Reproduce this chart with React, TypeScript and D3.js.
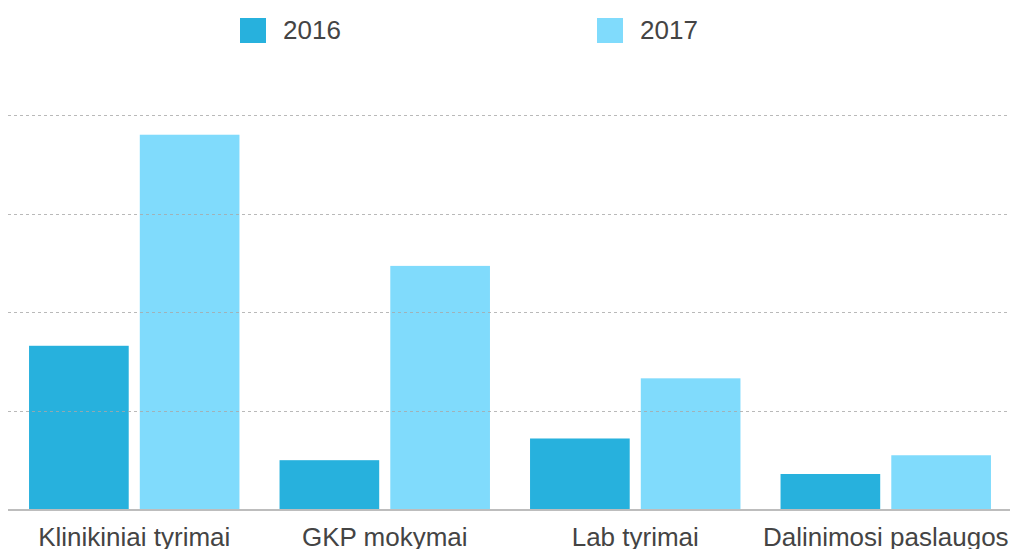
import * as d3 from "d3";
import React from "react";
import { useEffect, useRef } from "react";

const categories = ["Klinikiniai tyrimai", "GKP mokymai", "Lab tyrimai", "Dalinimosi paslaugos"];
const seriesNames = ["2016", "2017"];
const values2016 = [1.66, 0.5, 0.72, 0.36];
const values2017 = [3.8, 2.47, 1.33, 0.55];
const gridTicks = [1, 2, 3, 4];

const App = () => {
    const chartArea = useRef(null);
    const width = 1013, height = 549;
    const colors = { "2016": "#27b1dd", "2017": "#80dbfc" };

    useEffect(() => {
        createChart();
    }, []);

    const createChart = () => {
        const svg = d3.select(chartArea.current);
        svg.selectAll("*").remove();

        const x0 = d3.scaleBand()
            .domain(categories)
            .range([9, 1011])
            .paddingInner(0.16)
            .paddingOuter(0.08);

        const x1 = d3.scaleBand()
            .domain(seriesNames)
            .range([0, x0.bandwidth()])
            .paddingInner(0.1);

        const y = d3.scaleLinear()
            .domain([0, 4])
            .range([509.5, 115]);

        const rows = categories.map((c, i) => ({ name: c, values: [values2016[i], values2017[i]] }));

        // bars
        const groups = svg.selectAll("g.group")
            .data(rows)
            .enter()
            .append("g")
            .attr("class", "group")
            .attr("transform", (d: any) => "translate(" + x0(d.name) + ",0)");

        groups.selectAll("rect")
            .data((d: any) => d.values.map((v: number, j: number) => ({ key: seriesNames[j], value: v })))
            .enter()
            .append("rect")
            .attr("x", (d: any) => x1(d.key))
            .attr("y", (d: any) => y(d.value))
            .attr("width", x1.bandwidth())
            .attr("height", (d: any) => y(0) - y(d.value))
            .style("fill", (d: any) => colors[d.key]);

        // dotted grid lines drawn above the bars
        svg.selectAll("line.grid")
            .data(gridTicks)
            .enter()
            .append("line")
            .attr("class", "grid")
            .attr("x1", 8)
            .attr("x2", 1009)
            .attr("y1", (d: any) => Math.round(y(d)) + 0.5)
            .attr("y2", (d: any) => Math.round(y(d)) + 0.5)
            .style("stroke", "#a8a8a8")
            .style("stroke-dasharray", "3,3")
            .style("stroke-width", 1)
            .style("opacity", 0.8);

        // baseline
        svg.append("line")
            .attr("x1", 8)
            .attr("x2", 1010)
            .attr("y1", y(0) + 0.5)
            .attr("y2", y(0) + 0.5)
            .style("stroke", "#bdbdbd")
            .style("stroke-width", 2);

        // category labels
        svg.selectAll("text.cat")
            .data(categories)
            .enter()
            .append("text")
            .attr("class", "cat")
            .attr("x", (d: any) => (x0(d) as number) + x0.bandwidth() / 2)
            .attr("y", 546)
            .attr("text-anchor", "middle")
            .attr("font-size", "26px")
            .attr("font-family", "'Liberation Sans', Arial, sans-serif")
            .attr("fill", "#444")
            .text((d: any) => d);

        // legend
        const legendX = d3.scaleOrdinal<string, number>().domain(seriesNames).range([240, 597]);
        const legend = svg.selectAll("g.legend")
            .data(seriesNames)
            .enter()
            .append("g")
            .attr("class", "legend")
            .attr("transform", (d: any) => "translate(" + legendX(d) + ",18)");

        legend.append("rect")
            .attr("width", 26)
            .attr("height", 25)
            .style("fill", (d: any) => colors[d]);

        legend.append("text")
            .attr("x", 43)
            .attr("y", 21)
            .attr("font-size", "26px")
            .attr("font-family", "'Liberation Sans', Arial, sans-serif")
            .attr("fill", "#444")
            .text((d: any) => d);
    };

    return <svg ref={chartArea} width={width} height={height}
        style={{ position: "absolute", left: 0, top: 0, display: "block" }} />;
};

export default App;
